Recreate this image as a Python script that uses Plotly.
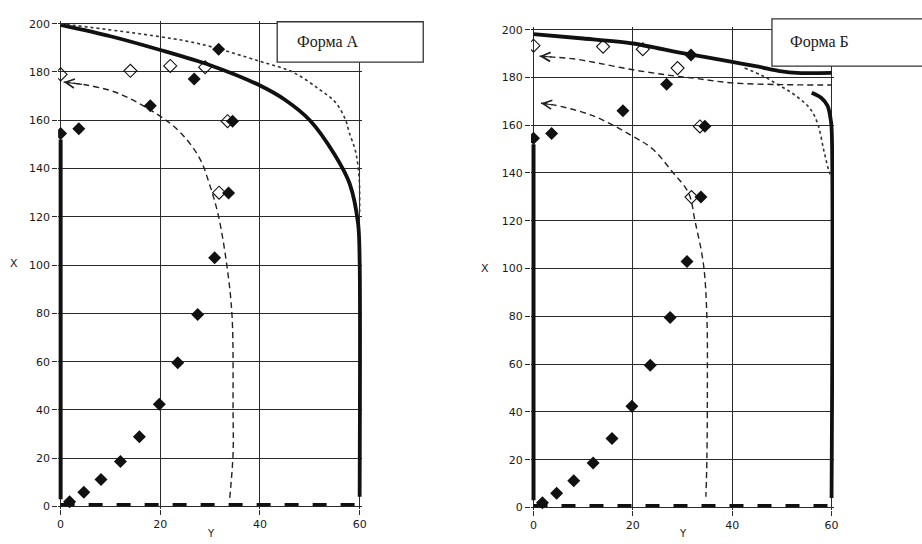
import plotly.graph_objects as go

# ---- measured points (shared by both shapes) ----
filled_x = [0, 1.8, 3.65, 4.65, 8.1, 12.0, 15.8, 18.0, 19.8, 23.5, 26.8, 27.5, 30.9, 31.7, 33.7, 34.5]
filled_y = [154.5, 2.0, 156.5, 5.9, 11.2, 18.6, 28.9, 166.0, 42.4, 59.5, 177.1, 79.5, 103.0, 189.4, 129.9, 159.6]

open_x = [0, 14, 22, 29, 33.5, 31.8]
open_y_a = [179.0, 180.5, 182.5, 182.0, 159.6, 130.0]
open_y_b = [193.3, 192.9, 191.8, 183.9, 159.5, 129.9]

# ---- channel walls ----
wall_x = [0, 0]
wall_y = [3, 152]
bottom_x = [0, 60]
bottom_y = [0.8, 0.8]

# ---- shape A curves ----
solid_a_x = [0, 10, 20, 30, 40, 45, 50, 55, 58, 59.7, 60, 60]
solid_a_y = [199.5, 194.8, 189.1, 182.8, 174.4, 168.5, 160.0, 145.7, 133.7, 117.0, 101.6, 4.0]

dotted_a_x = [0, 20, 28, 40, 46.6, 51.9, 55.2, 57.2, 57.9, 59.2, 59.9, 60]
dotted_a_y = [200.0, 194.6, 191.6, 184.4, 179.9, 172.8, 167.3, 160.0, 155.0, 146.9, 136.0, 122.0]

dashed_a_x = [0.6, 4.6, 11.3, 19.3, 24, 27.9, 29.9, 31.6, 33.3, 34.4, 34.6, 34.6, 33.9]
dashed_a_y = [175.8, 174.8, 171.4, 162.6, 155.0, 144.2, 133.3, 121.0, 100.7, 78.9, 40.0, 21.8, 2.7]

# ---- shape B curves ----
solid_b_x = [0, 10, 20, 30, 40, 45, 50, 53, 60]
solid_b_y = [198.1, 196.3, 194.2, 190.2, 186.5, 184.6, 182.5, 181.9, 181.9]

solid_b2_x = [56, 57.9, 59.2, 59.7, 60, 60]
solid_b2_y = [173.6, 171.5, 168.1, 164.0, 159.0, 4.0]

dotted_b_x = [42.5, 46, 49.2, 52, 54.5, 56, 57.3, 58.5, 59.5, 60]
dotted_b_y = [183.9, 180.8, 177.0, 173.5, 169.5, 166.0, 160.0, 148.9, 140.6, 138.0]

dashed_b1_x = [1.2, 4, 8, 13, 20, 27, 33, 40, 50, 60]
dashed_b1_y = [188.9, 188.5, 187.8, 186.0, 183.2, 181.0, 179.5, 177.7, 177.0, 176.8]

dashed_b2_x = [1.5, 4, 11.9, 19.9, 24, 27.9, 31.2, 32.5, 34.2, 34.9, 35.0, 34.9, 34.7]
dashed_b2_y = [169.2, 168.5, 164.0, 155.5, 150.0, 140.6, 131.7, 120.0, 102.0, 80.0, 50.0, 20.0, 4.5]

x_ticks = [0, 20, 40, 60]
y_ticks = [0, 20, 40, 60, 80, 100, 120, 140, 160, 180, 200]

INK = "#111111"
GRID = "#2a2a2a"

fig = go.Figure()


def add_panel(xa, ya, solids, dotted, dashed, open_y):
    ax = dict(xaxis=xa, yaxis=ya)
    # walls
    fig.add_trace(go.Scatter(x=wall_x, y=wall_y, mode="lines",
                             line=dict(color=INK, width=4), **ax))
    fig.add_trace(go.Scatter(x=bottom_x, y=bottom_y, mode="lines",
                             line=dict(color=INK, width=3.2, dash="14px,14px"), **ax))
    for sx, sy in solids:
        fig.add_trace(go.Scatter(x=sx, y=sy, mode="lines", line_shape="spline",
                                 line=dict(color=INK, width=3.8, smoothing=0.8), **ax))
    fig.add_trace(go.Scatter(x=dotted[0], y=dotted[1], mode="lines", line_shape="spline",
                             line=dict(color="#333333", width=1.6, dash="dot"), **ax))
    for dx, dy in dashed:
        fig.add_trace(go.Scatter(x=dx, y=dy, mode="lines", line_shape="spline",
                                 line=dict(color="#222222", width=1.4, dash="6px,4px"), **ax))
        fig.add_annotation(x=dx[0], y=dy[0], ax=dx[1], ay=dy[1],
                           xref=xa, yref=ya, axref=xa, ayref=ya,
                           text="", showarrow=True, arrowhead=5, arrowsize=1.6,
                           arrowwidth=1.1, arrowcolor="#222222")
    fig.add_trace(go.Scatter(x=open_x, y=open_y, mode="markers",
                             marker=dict(symbol="diamond-open", size=10, color=INK,
                                         line=dict(width=1.1, color=INK)), **ax))
    fig.add_trace(go.Scatter(x=filled_x, y=filled_y, mode="markers",
                             marker=dict(symbol="diamond", size=10, color=INK), **ax))


add_panel("x", "y",
          [(solid_a_x, solid_a_y)],
          (dotted_a_x, dotted_a_y),
          [(dashed_a_x, dashed_a_y)],
          open_y_a)
add_panel("x2", "y2",
          [(solid_b_x, solid_b_y), (solid_b2_x, solid_b2_y)],
          (dotted_b_x, dotted_b_y),
          [(dashed_b1_x, dashed_b1_y), (dashed_b2_x, dashed_b2_y)],
          open_y_b)

W, H = 922, 544
tick_font = dict(family="DejaVu Sans", size=11, color="#1a1a1a")


def xaxis(px0, px1):
    return dict(domain=[px0 / W, px1 / W], range=[-0.5, 60.5], tickvals=x_ticks,
                showgrid=True, gridcolor=GRID, gridwidth=1, zeroline=False,
                showline=False, ticks="outside", ticklen=5, tickcolor=GRID,
                tickfont=tick_font, fixedrange=True)


def yaxis(py_top, py_bot, anchor):
    return dict(domain=[1 - py_bot / H, 1 - py_top / H], range=[-1, 201], tickvals=y_ticks,
                showgrid=True, gridcolor=GRID, gridwidth=1, zeroline=False,
                showline=False, ticks="outside", ticklen=5, tickcolor=GRID,
                tickfont=tick_font, anchor=anchor, fixedrange=True)


fig.update_layout(
    width=W, height=H,
    margin=dict(l=0, r=0, t=0, b=0),
    paper_bgcolor="white", plot_bgcolor="white",
    showlegend=False,
    xaxis=dict(xaxis(57.5, 363.5), anchor="y"),
    yaxis=yaxis(17.55, 512.45, "x"),
    xaxis2=dict(xaxis(533.5, 838.5), anchor="y2"),
    yaxis2=yaxis(23.6, 513.4, "x2"),
)

# caption boxes
fig.add_shape(type="rect", xref="paper", yref="paper",
              x0=278 / W, x1=425 / W, y0=1 - 59 / H, y1=1 - 18 / H,
              line=dict(color="#333333", width=1.3), fillcolor="white", layer="above")
fig.add_shape(type="rect", xref="paper", yref="paper",
              x0=776 / W, x1=930 / W, y0=1 - 63 / H, y1=1 - 15 / H,
              line=dict(color="#333333", width=1.3), fillcolor="white", layer="above")

cap_font = dict(family="Liberation Serif", size=16, color="#1a1a1a")
fig.add_annotation(xref="paper", yref="paper", x=296 / W, y=1 - 39 / H,
                   xanchor="left", yanchor="middle", text="Форма А",
                   showarrow=False, font=cap_font)
fig.add_annotation(xref="paper", yref="paper", x=792 / W, y=1 - 39 / H,
                   xanchor="left", yanchor="middle", text="Форма Б",
                   showarrow=False, font=cap_font)

# axis titles
title_font = dict(family="DejaVu Sans", size=10, color="#1a1a1a")
for px, py in [(13, 263), (487, 268)]:
    fig.add_annotation(xref="paper", yref="paper", x=px / W, y=1 - py / H,
                       xanchor="center", yanchor="middle", text="X",
                       showarrow=False, font=dict(title_font, size=11))
for px in [211, 686]:
    fig.add_annotation(xref="paper", yref="paper", x=px / W, y=1 - 530 / H,
                       xanchor="center", yanchor="top", text="Y",
                       showarrow=False, font=title_font)

fig.write_html("out.html")
